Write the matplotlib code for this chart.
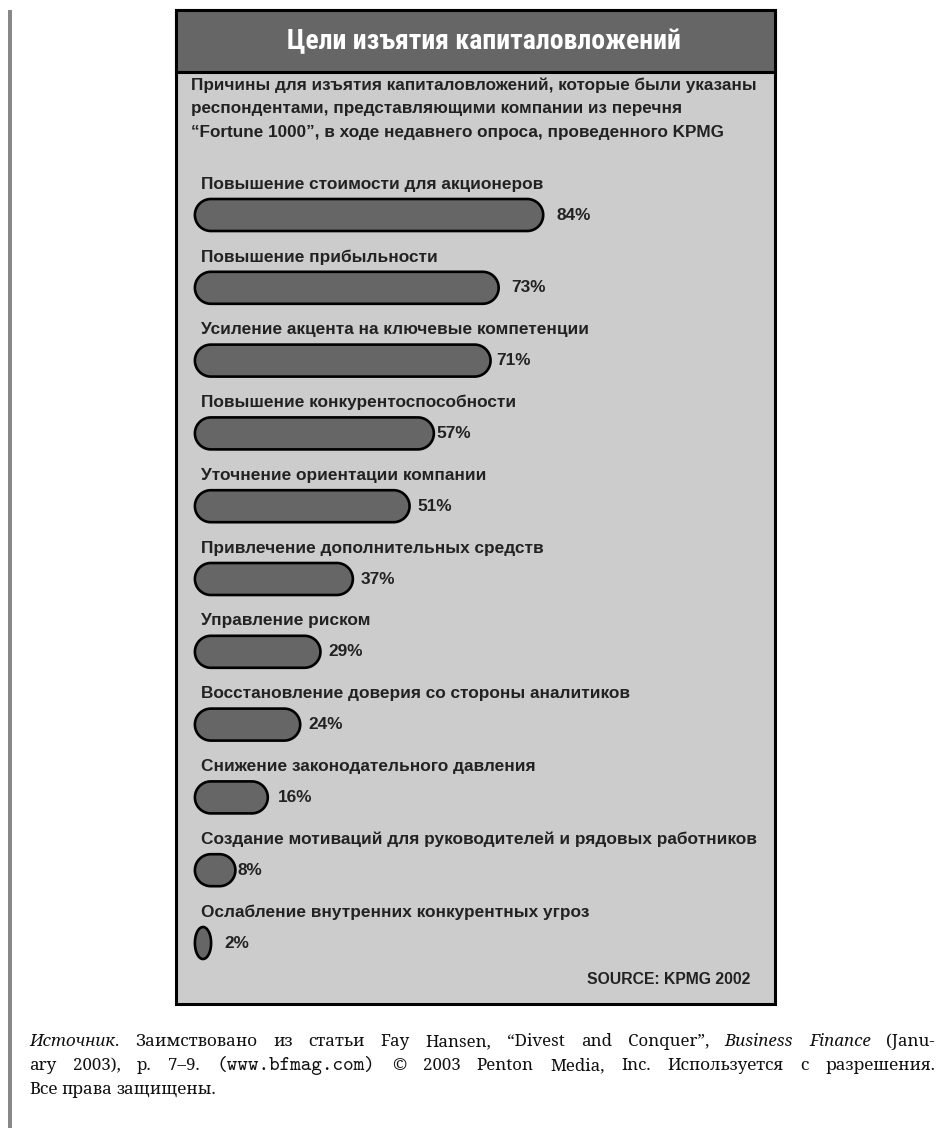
"""
Цели изъятия капиталовложений — rounded horizontal bars (KPMG 2002).
"""

import matplotlib
matplotlib.use("Agg")
import matplotlib.pyplot as plt
import numpy as np
from matplotlib.patches import Polygon, Rectangle

W, H = 943, 1128

TITLE = "Цели изъятия капиталовложений"
SUBTITLE = [
    "Причины для изъятия капиталовложений, которые были указаны",
    "респондентами, представляющими компании из перечня",
    "“Fortune 1000”, в ходе недавнего опроса, проведенного KPMG",
]
CATEGORIES = [
    "Повышение стоимости для акционеров",
    "Повышение прибыльности",
    "Усиление акцента на ключевые компетенции",
    "Повышение конкурентоспособности",
    "Уточнение ориентации компании",
    "Привлечение дополнительных средств",
    "Управление риском",
    "Восстановление доверия со стороны аналитиков",
    "Снижение законодательного давления",
    "Создание мотиваций для руководителей и рядовых работников",
    "Ослабление внутренних конкурентных угроз",
]
VALUES = [84, 73, 71, 57, 51, 37, 29, 24, 16, 8, 2]
SOURCE = "SOURCE: KPMG 2002"

# footnote: lines of (text, style) runs, justified except the last
FOOTNOTE = [
    [("Источник", "it"),
     (". Заимствовано из статьи Fay Hansen, “Divest and Conquer”, ", "rm"),
     ("Business Finance", "it"), (" (Janu-", "rm")],
    [("ary 2003), p. 7–9. ", "rm"), ("(www.bfmag.com)", "tt"),
     (" © 2003 Penton Media, Inc. Используется с разрешения.", "rm")],
    [("Все права защищены.", "rm")],
]

# layout in pixels
BOX = (176, 10, 775, 1004)          # left, top, right, bottom
BAND_BOTTOM = 72
ZERO_PX = 203
PX_PER_PCT = 4.05
BAR_START = -2.0                    # percent units, bars start a bit left of 0
ROW0_PX = 215
ROW_STEP = 72.8
BAR_H_PX = 32
LABEL_DY_PX = 31
LABEL_GAP_PX = [13, 13, 6, 3, 8, 8, 8, 8, 10, 2, 13]

DARK = "#666666"
LIGHT = "#cccccc"
INK = "#222222"

SANS = ["Liberation Sans", "DejaVu Sans"]
COND = ["Roboto Condensed", "PT Sans Narrow", "Liberation Sans Narrow", "Liberation Sans"]
SERIF = ["Noto Serif", "DejaVu Serif"]
MONO = ["cmtt10", "Liberation Mono"]


def capsule(x0, x1, yc, rx, ry, n=40):
    w = x1 - x0
    if w >= 2 * rx:
        t = np.linspace(np.pi / 2, 3 * np.pi / 2, n)
        left = np.column_stack([x0 + rx + rx * np.cos(t), yc + ry * np.sin(t)])
        t = np.linspace(-np.pi / 2, np.pi / 2, n)
        right = np.column_stack([x1 - rx + rx * np.cos(t), yc + ry * np.sin(t)])
        return np.vstack([left, right])
    t = np.linspace(0, 2 * np.pi, 2 * n)
    return np.column_stack([(x0 + x1) / 2 + w / 2 * np.cos(t), yc + ry * np.sin(t)])


def draw_footnote(fig, ax, left, right, baselines, size, tt_size):
    renderer = fig.canvas.get_renderer()
    styles = {
        "rm": dict(family=SERIF, fontsize=size),
        "it": dict(family=SERIF, style="italic", fontsize=size),
        "tt": dict(family=MONO, fontsize=tt_size),
    }
    for li, (runs, yb) in enumerate(zip(FOOTNOTE, baselines)):
        words = [[]]
        for text, st in runs:
            for i, part in enumerate(text.split(" ")):
                if i > 0:
                    words.append([])
                if part:
                    words[-1].append((part, st))
        words = [w for w in words if w]

        artists, widths = [], []
        for w in words:
            arts, ww = [], 0.0
            for part, st in w:
                t = ax.text(0, yb, part, color="#111111",
                            va="baseline", ha="left", **styles[st])
                wpx = t.get_window_extent(renderer).width
                arts.append((t, wpx))
                ww += wpx
            artists.append(arts)
            widths.append(ww)

        if li < len(FOOTNOTE) - 1:
            gap = (right - left - sum(widths)) / (len(words) - 1)
        else:
            gap = size * 0.35
        x = left
        for arts, ww in zip(artists, widths):
            xx = x
            for t, wpx in arts:
                t.set_x(xx)
                xx += wpx
            x += ww + gap


def main() -> None:
    fig = plt.figure(figsize=(W / 100, H / 100), dpi=100)
    ax = fig.add_axes([0, 0, 1, 1])
    ax.set_xlim(0, W)
    ax.set_ylim(H, 0)
    ax.axis("off")

    # page margin rule
    ax.add_patch(Rectangle((8, 10), 4, H - 10, facecolor="#888888", edgecolor="none"))

    # chart box + title band
    bl, bt, br, bb = BOX
    ax.add_patch(Rectangle((bl, bt), br - bl, bb - bt, facecolor=LIGHT,
                           edgecolor="black", linewidth=2.2, zorder=1))
    ax.add_patch(Rectangle((bl, bt), br - bl, BAND_BOTTOM - bt, facecolor=DARK,
                           edgecolor="black", linewidth=2.2, zorder=2))
    ax.text((bl + br) / 2 + 8, (bt + BAND_BOTTOM) / 2 + 1, TITLE, color="white",
            fontsize=20, fontweight="bold", family=COND, ha="center", va="center")

    for i, line in enumerate(SUBTITLE):
        ax.text(191, 85 + 23.5 * i, line, color=INK, fontsize=12.35,
                fontweight="bold", family=SANS, ha="left", va="center")

    ax.text(750, 980, SOURCE, color=INK, fontsize=11.3, fontweight="bold",
            family=SANS, ha="right", va="center")

    # bars in their own axes: x in percent, y in rows
    axb = fig.add_axes([bl / W, 1 - bb / H, (br - bl) / W, (bb - bt) / H])
    axb.set_xlim((bl - ZERO_PX) / PX_PER_PCT, (br - ZERO_PX) / PX_PER_PCT)
    axb.set_ylim((bb - ROW0_PX) / ROW_STEP, (bt - ROW0_PX) / ROW_STEP)
    axb.axis("off")
    axb.patch.set_visible(False)

    rx = BAR_H_PX / 2 / PX_PER_PCT
    ry = BAR_H_PX / 2 / ROW_STEP
    for i, (cat, v) in enumerate(zip(CATEGORIES, VALUES)):
        pts = capsule(BAR_START, v, i, rx, ry)
        axb.add_patch(Polygon(pts, closed=True, facecolor=DARK,
                              edgecolor="black", linewidth=1.9))
        axb.text(-0.5, i - LABEL_DY_PX / ROW_STEP, cat, color=INK, fontsize=12.4,
                 fontweight="bold", family=SANS, ha="left", va="center")
        axb.text(v + LABEL_GAP_PX[i] / PX_PER_PCT, i, f"{v}%", color=INK,
                 fontsize=12.4, fontweight="bold", family=SANS,
                 ha="left", va="center")

    draw_footnote(fig, ax, 29, 935, [1046, 1070, 1094], 12.2, 14.5)

    fig.savefig("out.png", dpi=100)
    plt.close(fig)


if __name__ == "__main__":
    main()
